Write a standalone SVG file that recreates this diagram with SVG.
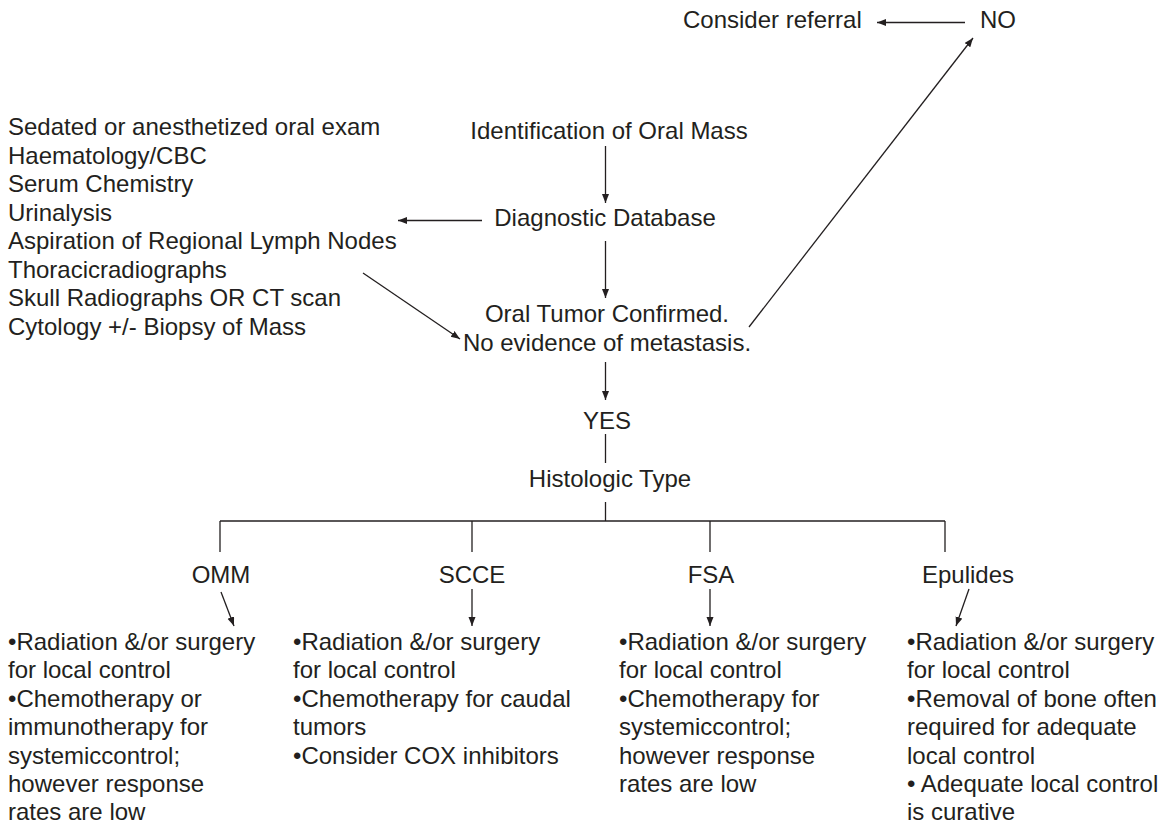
<svg xmlns="http://www.w3.org/2000/svg" width="1174" height="825" viewBox="0 0 1174 825">
<style>
text{font-family:"Liberation Sans",Arial,sans-serif;font-size:24px;fill:#231f20}
.c{text-anchor:middle}
.ln{stroke:#231f20;stroke-width:1.3;fill:none}
</style>
<defs>
<marker id="ah" markerUnits="userSpaceOnUse" markerWidth="10" markerHeight="8" refX="9" refY="3.5" orient="auto">
<path d="M0,0 L9,3.5 L0,7 z" fill="#231f20"/>
</marker>
</defs>
<rect width="1174" height="825" fill="#ffffff"/>
<g id="connectors">
<line class="ln" x1="965" y1="22.5" x2="877" y2="22.5" marker-end="url(#ah)"/>
<line class="ln" x1="749" y1="327" x2="973" y2="38" marker-end="url(#ah)"/>
<line class="ln" x1="605.5" y1="146" x2="605.5" y2="203" marker-end="url(#ah)"/>
<line class="ln" x1="482" y1="220.5" x2="398" y2="220.5" marker-end="url(#ah)"/>
<line class="ln" x1="605.5" y1="241" x2="605.5" y2="298" marker-end="url(#ah)"/>
<line class="ln" x1="363" y1="273" x2="460" y2="339" marker-end="url(#ah)"/>
<line class="ln" x1="605.5" y1="362" x2="605.5" y2="400" marker-end="url(#ah)"/>
<line class="ln" x1="605.5" y1="434" x2="605.5" y2="463"/>
<line class="ln" x1="605.5" y1="502" x2="605.5" y2="521"/>
<line class="ln" x1="220" y1="521" x2="945" y2="521"/>
<line class="ln" x1="220" y1="521" x2="220" y2="552"/>
<line class="ln" x1="472" y1="521" x2="472" y2="552"/>
<line class="ln" x1="710" y1="521" x2="710" y2="552"/>
<line class="ln" x1="945" y1="521" x2="945" y2="552"/>
<line class="ln" x1="221" y1="592" x2="234" y2="626" marker-end="url(#ah)"/>
<line class="ln" x1="472" y1="589" x2="472" y2="626" marker-end="url(#ah)"/>
<line class="ln" x1="710" y1="589" x2="710" y2="626" marker-end="url(#ah)"/>
<line class="ln" x1="969" y1="589" x2="956" y2="626" marker-end="url(#ah)"/>
</g>
<g id="node-referral"><text x="683" y="28">Consider referral</text></g>
<g id="node-no"><text x="980" y="28">NO</text></g>
<g id="node-identification"><text class="c" x="609" y="139">Identification of Oral Mass</text></g>
<g id="node-database"><text class="c" x="605" y="226">Diagnostic Database</text></g>
<g id="node-list">
<text x="8" y="135">Sedated or anesthetized oral exam</text>
<text x="8" y="163.5">Haematology/CBC</text>
<text x="8" y="192">Serum Chemistry</text>
<text x="8" y="220.5">Urinalysis</text>
<text x="8" y="249">Aspiration of Regional Lymph Nodes</text>
<text x="8" y="277.5">Thoracicradiographs</text>
<text x="8" y="306">Skull Radiographs OR CT scan</text>
<text x="8" y="334.5">Cytology +/- Biopsy of Mass</text>
</g>
<g id="node-confirmed">
<text class="c" x="607" y="322">Oral Tumor Confirmed.</text>
<text class="c" x="607" y="351">No evidence of metastasis.</text>
</g>
<g id="node-yes"><text class="c" x="607" y="429">YES</text></g>
<g id="node-histologic"><text class="c" x="610" y="487">Histologic Type</text></g>
<g id="node-omm"><text class="c" x="221" y="583">OMM</text></g>
<g id="node-scce"><text class="c" x="472" y="583">SCCE</text></g>
<g id="node-fsa"><text class="c" x="711" y="583">FSA</text></g>
<g id="node-epulides"><text class="c" x="968" y="583">Epulides</text></g>
<g id="node-omm-tx">
<text x="8" y="650">•Radiation &amp;/or surgery</text>
<text x="8" y="678.4">for local control</text>
<text x="8" y="706.8">•Chemotherapy or</text>
<text x="8" y="735.2">immunotherapy for</text>
<text x="8" y="763.6">systemiccontrol;</text>
<text x="8" y="792">however response</text>
<text x="8" y="820.4">rates are low</text>
</g>
<g id="node-scce-tx">
<text x="293" y="650">•Radiation &amp;/or surgery</text>
<text x="293" y="678.4">for local control</text>
<text x="293" y="706.8">•Chemotherapy for caudal</text>
<text x="293" y="735.2">tumors</text>
<text x="293" y="763.6">•Consider COX inhibitors</text>
</g>
<g id="node-fsa-tx">
<text x="619" y="650">•Radiation &amp;/or surgery</text>
<text x="619" y="678.4">for local control</text>
<text x="619" y="706.8">•Chemotherapy for</text>
<text x="619" y="735.2">systemiccontrol;</text>
<text x="619" y="763.6">however response</text>
<text x="619" y="792">rates are low</text>
</g>
<g id="node-epulides-tx">
<text x="907" y="650">•Radiation &amp;/or surgery</text>
<text x="907" y="678.4">for local control</text>
<text x="907" y="706.8">•Removal of bone often</text>
<text x="907" y="735.2">required for adequate</text>
<text x="907" y="763.6">local control</text>
<text x="907" y="792">• Adequate local control</text>
<text x="907" y="820.4">is curative</text>
</g>
</svg>
